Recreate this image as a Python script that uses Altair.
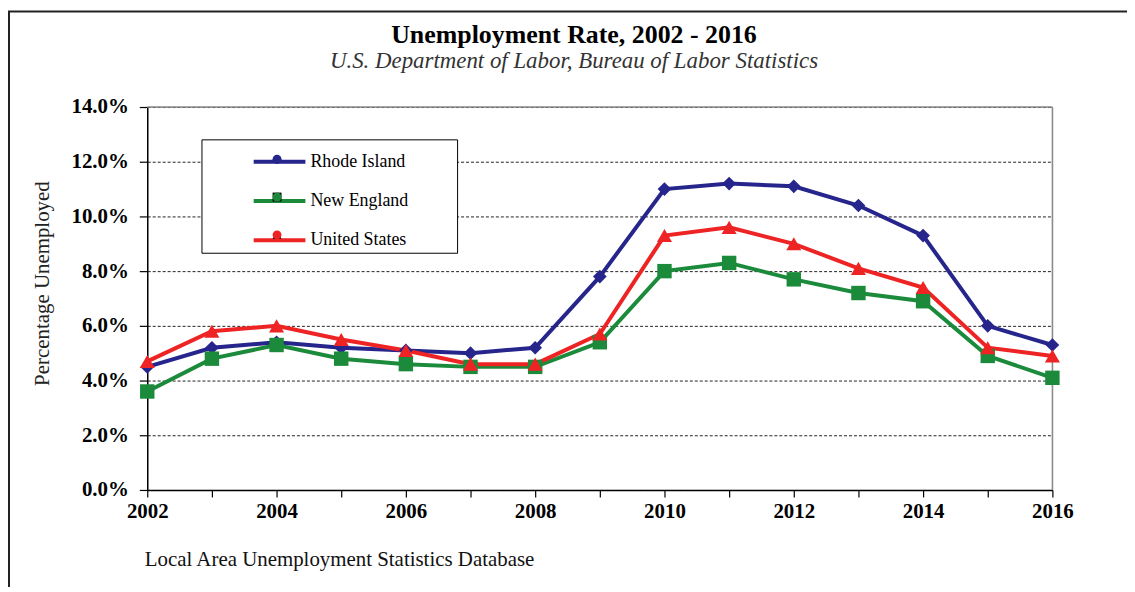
import altair as alt
import pandas as pd

years = list(range(2002, 2017))
rhode_island = [4.5, 5.2, 5.4, 5.2, 5.1, 5.0, 5.2, 7.8, 11.0, 11.2, 11.1, 10.4, 9.3, 6.0, 5.3]
new_england = [3.6, 4.8, 5.3, 4.8, 4.6, 4.5, 4.5, 5.4, 8.0, 8.3, 7.7, 7.2, 6.9, 4.9, 4.1]
united_states = [4.7, 5.8, 6.0, 5.5, 5.1, 4.6, 4.6, 5.7, 9.3, 9.6, 9.0, 8.1, 7.4, 5.2, 4.9]
series_names = ["Rhode Island", "New England", "United States"]
series_colors = ["#25258C", "#1B8B3B", "#EE2424"]
series_shapes = ["diamond", "square", "triangle-up"]

rows = []
for name, vals in zip(series_names, [rhode_island, new_england, united_states]):
    for y, v in zip(years, vals):
        rows.append({"year": y, "rate": v, "series": name, "series2": name})
df = pd.DataFrame(rows)

FONT = "Liberation Serif"

x_enc = alt.X("year:Q",
              scale=alt.Scale(domain=[2002, 2016], nice=False, zero=False),
              axis=alt.Axis(values=years,
                            labelExpr="datum.value % 2 == 0 ? format(datum.value, 'd') : ''",
                            grid=False, domainColor="black", domainWidth=1.5,
                            tickColor="black", tickSize=7, tickWidth=1.2,
                            labelFont=FONT, labelFontWeight="bold", labelFontSize=21,
                            labelColor="black", labelPadding=4, labelFlush=False,
                            title="Local Area Unemployment Statistics Database",
                            titleFont=FONT, titleFontWeight="normal", titleFontSize=21,
                            titleColor="#111", titleX=-3, titleY=76, titleAlign="left",
                            titleBaseline="alphabetic"))
y_enc = alt.Y("rate:Q",
              scale=alt.Scale(domain=[0, 14], nice=False),
              axis=alt.Axis(values=[0, 2, 4, 6, 8, 10, 12, 14],
                            labelExpr="format(datum.value, '.1f') + '%'",
                            grid=True, gridColor="#222", gridDash=[3, 2], gridWidth=1,
                            domainColor="black", domainWidth=1.5,
                            tickColor="black", tickSize=8, tickWidth=1.2,
                            labelFont=FONT, labelFontWeight="bold", labelFontSize=21,
                            labelColor="black", labelPadding=11,
                            title="Percentage Unemployed",
                            titleFont=FONT, titleFontWeight="normal", titleFontSize=21,
                            titleColor="#222", titleX=-95, titleY=177,
                            titleAlign="center", titleBaseline="bottom"))

base = alt.Chart(df)
one = alt.Data(values=[{}])

top_border = alt.Chart(one).mark_rule(color="#8a8a8a", strokeWidth=1.5).encode(
    x=alt.datum(2002), x2=alt.datum(2016), y=alt.datum(14))
right_border = alt.Chart(one).mark_rule(color="#8a8a8a", strokeWidth=1.5).encode(
    x=alt.datum(2016), y=alt.datum(0), y2=alt.datum(14))

frame_top = alt.Chart(one).mark_rule(color="#222", strokeWidth=2).encode(
    x=alt.value(-140), x2=alt.value(990), y=alt.value(-96))
frame_left = alt.Chart(one).mark_rule(color="#222", strokeWidth=2).encode(
    x=alt.value(-139), y=alt.value(-96), y2=alt.value(490))

legend_box = alt.Chart(one).mark_rect(fill="white", stroke="black", strokeWidth=1).encode(
    x=alt.value(55), x2=alt.value(312), y=alt.value(33), y2=alt.value(147))

lines = base.mark_line(strokeWidth=4).encode(
    x=x_enc, y=y_enc,
    color=alt.Color("series:N", sort=series_names,
                    scale=alt.Scale(domain=series_names, range=series_colors),
                    legend=alt.Legend(title=None, orient="none", legendX=105, legendY=27,
                                      symbolType="stroke", symbolSize=2704, symbolStrokeWidth=4,
                                      labelFont=FONT, labelFontSize=18, labelColor="black",
                                      labelOffset=3, rowPadding=2.5, padding=0)),
    order=alt.Order("year:Q"),
    detail="series:N",
)

leg_b = dict(title=None, orient="none", legendX=126, legendY=48,
             symbolSize=80, symbolStrokeWidth=0, labelExpr="''",
             labelFontSize=1, labelOffset=0, rowPadding=29, padding=0)

points = base.mark_point(filled=True, opacity=1, strokeWidth=0).encode(
    x="year:Q", y="rate:Q",
    fill=alt.Fill("series2:N", sort=series_names,
                  scale=alt.Scale(range=series_colors),
                  legend=alt.Legend(**leg_b)),
    shape=alt.Shape("series2:N", sort=series_names,
                    scale=alt.Scale(range=series_shapes),
                    legend=alt.Legend(**leg_b)),
    size=alt.Size("series2:N", sort=series_names,
                  scale=alt.Scale(range=[190, 230, 240]), legend=None),
)

chart = alt.layer(frame_top, frame_left, top_border, right_border, legend_box, lines, points).properties(
    width=910, height=385,
    title=alt.TitleParams(
        text="Unemployment Rate, 2002 - 2016",
        subtitle="U.S. Department of Labor, Bureau of Labor Statistics",
        font=FONT, fontSize=26, fontWeight="bold", color="black",
        subtitleFont=FONT, subtitleFontSize=23, subtitleFontStyle="italic",
        subtitleColor="#333", subtitlePadding=2,
        anchor="middle", frame="group", dx=-26, offset=-63),
    autosize=alt.AutoSizeParams(type="none"),
    padding={"left": 140, "top": 98, "right": 75, "bottom": 96},
).configure_view(stroke=None).configure(background="white")

chart.save("out.html", embed_options={"renderer": "svg", "actions": False})
